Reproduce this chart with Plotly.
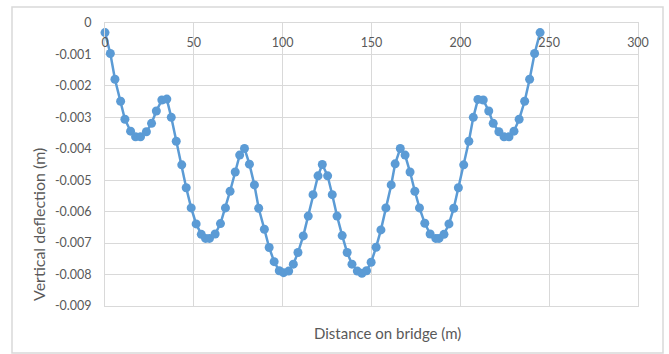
import plotly.graph_objects as go

# Distance along the bridge (m) and measured vertical deflection (m)
distance = [
    0.0, 3.0, 5.6, 8.8, 11.2, 14.4, 17.2, 20.0, 23.3, 26.2,
    28.9, 32.0, 34.8, 37.3, 40.1, 43.2, 45.7, 48.5, 51.3, 54.2,
    56.6, 58.8, 62.0, 65.0, 67.8, 70.4, 73.3, 75.8, 78.5, 81.3,
    84.1, 86.5, 89.7, 92.4, 95.2, 98.1, 100.5, 103.4, 106.0, 108.6,
    111.6, 114.4, 117.1, 119.9, 122.3, 125.3, 127.9, 130.6, 133.5, 136.3,
    139.0, 142.0, 144.6, 147.2, 149.8, 152.6, 155.3, 158.1, 161.1, 163.3,
    166.2, 168.9, 171.7, 174.4, 177.0, 180.0, 183.0, 186.2, 188.0, 190.8,
    193.6, 196.3, 198.9, 201.9, 204.8, 207.3, 209.9, 212.9, 216.0, 218.5,
    221.7, 224.6, 227.4, 230.2, 233.1, 236.2, 239.0, 241.8, 244.9,
]
deflection = [
    -0.000305, -0.00097, -0.00179, -0.00249, -0.00306, -0.00344, -0.00362, -0.00362, -0.00346, -0.00319,
    -0.00280, -0.00245, -0.00242, -0.00300, -0.00376, -0.00451, -0.00524, -0.00588, -0.00639, -0.00672,
    -0.00685, -0.00685, -0.00671, -0.00638, -0.00588, -0.00535, -0.00474, -0.00420, -0.00399, -0.00449,
    -0.00515, -0.00589, -0.00656, -0.00714, -0.00759, -0.00788, -0.00794, -0.00789, -0.00767, -0.00730,
    -0.00677, -0.00614, -0.00546, -0.00486, -0.00450, -0.00486, -0.00546, -0.00614, -0.00676, -0.00730,
    -0.00767, -0.00789, -0.00796, -0.00788, -0.00761, -0.00713, -0.00658, -0.00588, -0.00515, -0.00448,
    -0.00399, -0.00420, -0.00474, -0.00535, -0.00588, -0.00637, -0.00671, -0.00685, -0.00685, -0.00672,
    -0.00639, -0.00589, -0.00524, -0.00451, -0.00376, -0.00300, -0.00243, -0.00245, -0.00280, -0.00319,
    -0.00346, -0.00362, -0.00362, -0.00344, -0.00306, -0.00249, -0.00179, -0.00097, -0.000305,
]

x_ticks = [0, 50, 100, 150, 200, 250, 300]
x_tick_text = ["0", "50", "100", "150", "200", "250", "300"]
y_ticks = [0, -0.001, -0.002, -0.003, -0.004, -0.005, -0.006, -0.007, -0.008, -0.009]
y_tick_text = ["0", "-0.001", "-0.002", "-0.003", "-0.004", "-0.005",
               "-0.006", "-0.007", "-0.008", "-0.009"]

x_title = "Distance on bridge (m)"
y_title = "Vertical deflection (m)"

FONT = "Lato, Calibri, sans-serif"
TEXT = "#595959"
GRID = "#d9d9d9"
BLUE = "#5B9BD5"

W, H = 669, 354
ML, MR, MT, MB = 105, 31, 23, 48
PW, PH = W - ML - MR, H - MT - MB


def px_to_paper(px, py):
    return (px - ML) / PW, (H - MB - py) / PH


fig = go.Figure(
    go.Scatter(
        x=distance,
        y=deflection,
        mode="lines+markers",
        line=dict(color=BLUE, width=2.5),
        marker=dict(size=9, color=BLUE),
        cliponaxis=False,
        showlegend=False,
    )
)

fig.update_xaxes(
    range=[0, 300],
    side="top",
    tickvals=x_ticks,
    ticktext=x_tick_text,
    ticklabelposition="inside",
    ticklabeloverflow="allow",
    ticks="",
    ticklabelstandoff=15,
    showgrid=True,
    gridcolor=GRID,
    gridwidth=1,
    showline=True,
    linecolor=GRID,
    linewidth=1,
    mirror=True,
    zeroline=False,
    tickfont=dict(family=FONT, size=12.5, color=TEXT),
)
fig.update_yaxes(
    range=[-0.009, 0],
    tickvals=y_ticks,
    ticktext=y_tick_text,
    ticks="",
    ticklabeloverflow="allow",
    ticklabelstandoff=10,
    showgrid=True,
    gridcolor=GRID,
    gridwidth=1,
    showline=True,
    linecolor=GRID,
    linewidth=1,
    mirror=True,
    zeroline=False,
    tickfont=dict(family=FONT, size=12.5, color=TEXT),
)

bx0, by0 = px_to_paper(12, 7)
bx1, by1 = px_to_paper(663, 353)
ytx, yty = px_to_paper(38, 225)
xtx, xty = px_to_paper(387, 333)

fig.update_layout(
    width=W,
    height=H,
    autosize=False,
    margin=dict(l=ML, r=MR, t=MT, b=MB),
    paper_bgcolor="white",
    plot_bgcolor="white",
    shapes=[
        dict(type="rect", xref="paper", yref="paper",
             x0=bx0, y0=by1, x1=bx1, y1=by0,
             line=dict(color=GRID, width=1.5), layer="below"),
    ],
    annotations=[
        dict(text=y_title, xref="paper", yref="paper", x=ytx, y=yty,
             textangle=-90, showarrow=False, xanchor="center", yanchor="middle",
             font=dict(family=FONT, size=16, color=TEXT)),
        dict(text=x_title, xref="paper", yref="paper", x=xtx, y=xty,
             showarrow=False, xanchor="center", yanchor="middle",
             font=dict(family=FONT, size=15, color=TEXT)),
    ],
)

fig.write_html("out.html")
